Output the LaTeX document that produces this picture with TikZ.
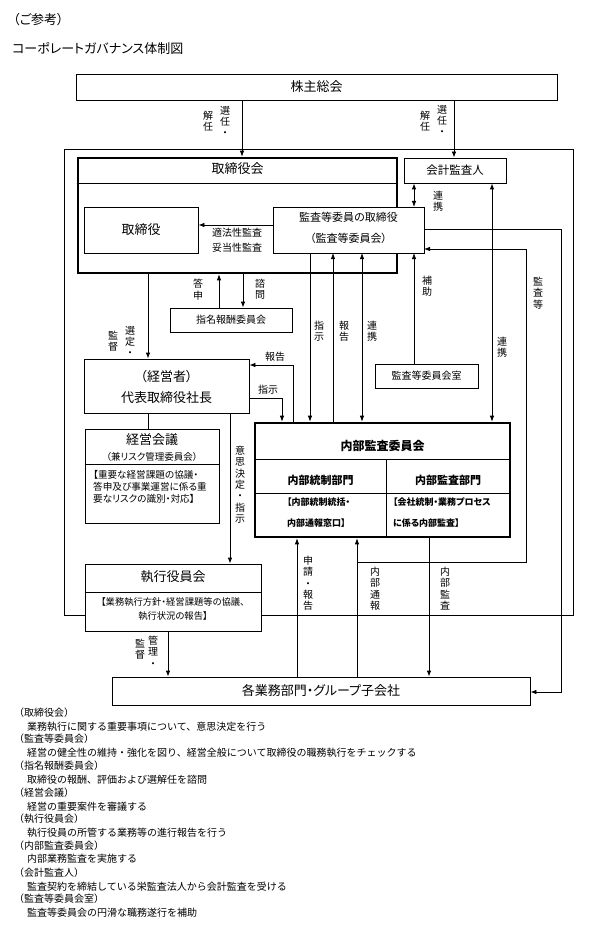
\documentclass[tikz,border=0pt]{standalone}
\usepackage{fontspec}
\setmainfont{Noto Sans CJK JP}[RawFeature=+palt]
\newfontfamily\notefont{Noto Sans CJK JP}
\usetikzlibrary{arrows.meta}
\newcommand\fsz[2]{\fontsize{#1}{#2}\selectfont}
\begin{document}
\begin{tikzpicture}[x=1pt,y=-1pt,
  every node/.style={inner sep=0pt},
  box/.style={draw, line width=0.8pt, fill=white, inner sep=0pt},
  tbox/.style={draw, line width=2.6pt, fill=white, inner sep=0pt},
  ln/.style={line width=0.8pt},
  arr/.style={line width=0.8pt, -{Latex[length=6pt,width=4.5pt]}},
  dbl/.style={line width=0.8pt, {Latex[length=6pt,width=4.5pt]}-{Latex[length=6pt,width=4.5pt]}},
  vlab/.style={align=center, anchor=north, font=\fsz{10}{11.3}},
  hlab/.style={font=\fsz{10}{12}},
  note/.style={anchor=west, font=\notefont\fsz{10}{12}},
]
\useasboundingbox (0,0) rectangle (602,933);
\fill[white] (0,0) rectangle (602,933);

% titles
\node[anchor=west, font=\fsz{13}{15}] (t1) at (13,20) {（ご参考）};
\node[anchor=west, font=\fsz{13}{15}] (t2) at (12,48) {コーポレートガバナンス体制図};

% nodes
\node[box, minimum width=481, minimum height=26, font=\fsz{13}{15}] (kabu) at (316.5,87) {株主総会};
\node[draw, line width=0.8pt, minimum width=509, minimum height=466] (outer) at (318.5,382) {};
\node[tbox, minimum width=319, minimum height=115] (tbk) at (237.5,215.5) {};
\node[box, minimum width=102, minimum height=25, font=\fsz{11.5}{13}] (kaikei) at (455,170.5) {会計監査人};
\node[box, minimum width=114, minimum height=46, font=\fsz{13}{15}] (tori) at (141,230) {取締役};
\node[box, minimum width=122, minimum height=24, font=\fsz{10}{12}] (simei) at (231,320) {指名報酬委員会};
\node[box, minimum width=103, minimum height=24, font=\fsz{10}{12}] (shitsu) at (426.5,376) {監査等委員会室};
\node[box, minimum width=165, minimum height=54] (pres) at (166.5,386) {};
\node[box, minimum width=134, minimum height=94] (keiei) at (152,476) {};
\node[box, minimum width=176, minimum height=67] (shikkou) at (173,597.5) {};
\node[box, minimum width=418, minimum height=28, font=\fsz{13}{15}] (gyomu) at (321,691) {各業務部門・グループ子会社};
\node[tbox, minimum width=255, minimum height=114] (naibu) at (382.5,480) {};

% inner parts of boxes
\draw[ln] (tbk.west |- 0,183) -- (tbk.east |- 0,183);
\node[font=\fsz{13}{15}] (tbkt) at (237.5,169) {取締役会};

\node[font=\fsz{13}{15}] (prest1) at (166.5,377) {（経営者）};
\node[font=\fsz{13}{15}] (prest2) at (166.5,398) {代表取締役社長};

\draw[ln] (keiei.west |- 0,464) -- (keiei.east |- 0,464);
\node[font=\fsz{13}{15}] (keieit) at (152,440) {経営会議};
\node[font=\fsz{9.5}{12}] (keieis) at (152,457) {（兼リスク管理委員会）};
\node[font=\fsz{9.6}{12}, align=left, anchor=north west] (keieid) at (93,470) {【重要な経営課題の協議・\\答申及び事業運営に係る重\\要なリスクの識別・対応】};

\draw[ln] (shikkou.west |- 0,592) -- (shikkou.east |- 0,592);
\node[font=\fsz{13}{15}] (shikkout) at (173,577) {執行役員会};
\node[font=\fsz{9.3}{14}, align=center] (shikkoud) at (173,609) {【業務執行方針・経営課題等の協議、\\執行状況の報告】};

\draw[ln] (naibu.west |- 0,459) -- (naibu.east |- 0,459);
\draw[ln] (naibu.west |- 0,493) -- (naibu.east |- 0,493);
\draw[ln] (386,459) -- (naibu.south -| 386,0);
\node[font=\fsz{12}{14}\bfseries] (naibut) at (382.5,446) {内部監査委員会};
\node[font=\fsz{11}{13}\bfseries] (naibul) at (320.5,480) {内部統制部門};
\node[font=\fsz{11}{13}\bfseries] (naibur) at (448,480) {内部監査部門};
\node[font=\fsz{9}{21}\bfseries, align=left, anchor=north west] (naibuld) at (287,498) {【内部統制統括・\\内部通報窓口】};
\node[font=\fsz{9}{21}\bfseries, align=left, anchor=north west] (naiburd) at (393,498) {【会社統制・業務プロセス\\に係る内部監査】};

% connectors
\draw[arr] (kabu.south -| 242,0) -- (tbk.north -| 242,0);
\draw[arr] (kabu.south -| 454,0) -- (kaikei.north -| 454,0);
\draw[dbl] (kaikei.south -| 414,0) -- (414,207);
\draw[arr] (273,225) -- (tori.east |- 0,225);
\draw[arr] (simei.north -| 219,0) -- (tbk.south -| 219,0);
\draw[arr] (tbk.south -| 243,0) -- (simei.north -| 243,0);
\draw[arr] (tbk.south -| 148,0) -- (pres.north -| 148,0);
\draw[ln] (pres.south -| 148,0) -- (keiei.north -| 148,0);
\draw[arr] (pres.south -| 230,0) -- (shikkou.north -| 230,0);
\draw[arr] (shitsu.north -| 414,0) -- (414,253);
\draw[arr] (310,253) -- (naibu.north -| 310,0);
\draw[arr] (naibu.north -| 333,0) -- (333,253);
\draw[dbl] (362,253) -- (naibu.north -| 362,0);
\draw[dbl] (kaikei.south -| 492,0) -- (naibu.north -| 492,0);
\draw[arr] (pres.east |- 0,398) -| (naibu.north -| 282,0);
\draw[arr] (naibu.north -| 293,0) |- (pres.east |- 0,365);
\draw[arr] (shikkou.south -| 168,0) -- (gyomu.north -| 168,0);
\draw[arr] (gyomu.north -| 297,0) -- (naibu.south -| 297,0);
\draw[arr] (gyomu.north -| 357,0) -- (naibu.south -| 357,0);
\coordinate (jn) at (357,562);
\draw[arr] (jn) -- (526,562) -- (526,249) -- (424,249);
\draw[arr] (naibu.south -| 429,0) -- (gyomu.north -| 429,0);
\draw[arr] (424,229) -- (561,229) -- (561,692) -- (gyomu.east |- 0,692);

% kansa box on top
\node[box, minimum width=151, minimum height=46] (kansa) at (348.5,230) {};
\node[font=\fsz{11}{13}] (kansat1) at (348.5,217) {監査等委員の取締役};
\node[font=\fsz{11}{13}] (kansat2) at (348.5,238) {（監査等委員会）};

% labels
\node[vlab] (l1a) at (225,106) {選\\任\\・};
\node[vlab] (l1b) at (208,111) {解\\任};
\node[vlab] (l2a) at (442,105) {選\\任\\・};
\node[vlab] (l2b) at (425,111) {解\\任};
\node[vlab] (l3) at (438,191) {連\\携};
\node[hlab] (l4a) at (237,233) {適法性監査};
\node[hlab] (l4b) at (237,248) {妥当性監査};
\node[vlab] (l5) at (198,279) {答\\申};
\node[vlab] (l6) at (260,279) {諮\\問};
\node[vlab] (l7a) at (130,326) {選\\定\\・};
\node[vlab] (l7b) at (113,331) {監\\督};
\node[vlab] (l8) at (319,321) {指\\示};
\node[vlab] (l9) at (344,321) {報\\告};
\node[vlab] (l10) at (372,321) {連\\携};
\node[vlab] (l11) at (427,276) {補\\助};
\node[vlab] (l12) at (538,277) {監\\査\\等};
\node[vlab] (l13) at (502,337) {連\\携};
\node[hlab] (l14) at (275,357) {報告};
\node[hlab] (l15) at (268,390) {指示};
\node[vlab] (l16) at (240,446) {意\\思\\決\\定\\・\\指\\示};
\node[vlab] (l17a) at (153,636) {管\\理\\・};
\node[vlab] (l17b) at (140,639) {監\\督};
\node[vlab] (l18) at (308,556) {申\\請\\・\\報\\告};
\node[vlab] (l19) at (375,567) {内\\部\\通\\報};
\node[vlab] (l20) at (445,567) {内\\部\\監\\査};

% notes
\node[note] (n1) at (14,713) {（取締役会）};
\node[note] (n2) at (27,727) {業務執行に関する重要事項について、意思決定を行う};
\node[note] (n3) at (14,739) {（監査等委員会）};
\node[note] (n4) at (27,753) {経営の健全性の維持・強化を図り、経営全般について取締役の職務執行をチェックする};
\node[note] (n5) at (14,766) {（指名報酬委員会）};
\node[note] (n6) at (27,780) {取締役の報酬、評価および選解任を諮問};
\node[note] (n7) at (14,793) {（経営会議）};
\node[note] (n8) at (27,807) {経営の重要案件を審議する};
\node[note] (n9) at (14,819) {（執行役員会）};
\node[note] (n10) at (27,833) {執行役員の所管する業務等の進行報告を行う};
\node[note] (n11) at (14,846) {（内部監査委員会）};
\node[note] (n12) at (27,859) {内部業務監査を実施する};
\node[note] (n13) at (14,873) {（会計監査人）};
\node[note] (n14) at (27,887) {監査契約を締結している栄監査法人から会計監査を受ける};
\node[note] (n15) at (14,899) {（監査等委員会室）};
\node[note] (n16) at (27,913) {監査等委員会の円滑な職務遂行を補助};
\end{tikzpicture}
\end{document}
